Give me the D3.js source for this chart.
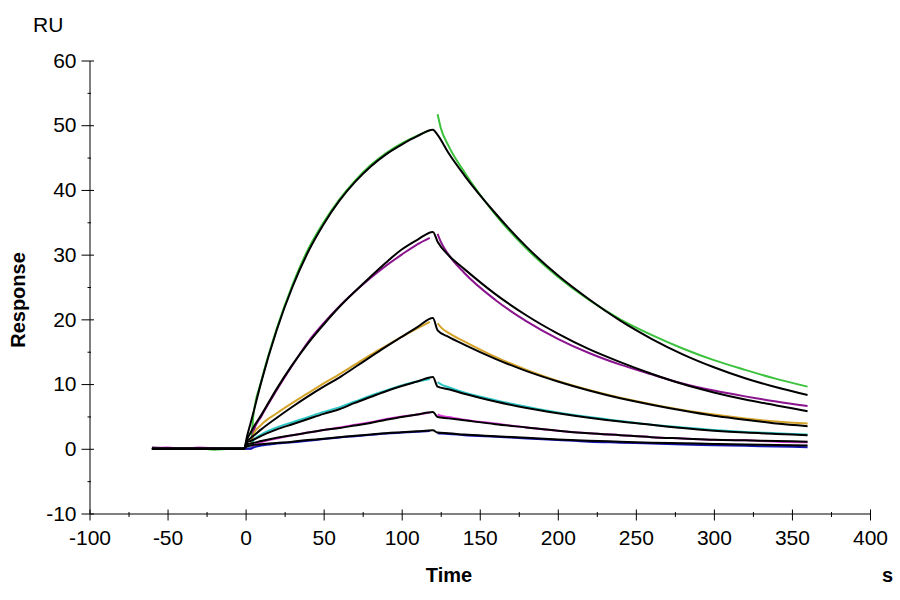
<!DOCTYPE html>
<html>
<head>
<meta charset="utf-8">
<script src="https://cdn.jsdelivr.net/npm/d3@7"></script>
<style>
  html, body { margin: 0; padding: 0; background: #fff; }
  svg { display: block; font-family: "Liberation Sans", Arial, sans-serif; }
</style>
</head>
<body>
<svg id="chart" width="900" height="600"></svg>
<script>
// ---------- data ----------
const xTicks = [-100, -50, 0, 50, 100, 150, 200, 250, 300, 350, 400];
const yTicks = [-10, 0, 10, 20, 30, 40, 50, 60];

// time points of the black fitted curves (s)
const fitTime = [-60, -1, 1, 3, 5, 10, 20, 30, 40, 50, 60, 70, 80, 90, 100, 110, 120,
                 123, 130, 140, 160, 180, 200, 220, 240, 260, 280, 300, 320, 340, 360];
const fit1 = [0, 0, 2.0, 3.8, 5.6, 10.3, 18.4, 25.0, 30.4, 34.7, 38.3, 41.2, 43.6, 45.5, 47.0, 48.3, 49.3,
              48.5, 45.7, 42.3, 36.4, 31.2, 26.8, 23.1, 19.8, 17.0, 14.6, 12.6, 10.9, 9.5, 8.3];
const fit2 = [0, 0, 1.5, 2.4, 3.3, 5.2, 9.3, 13.0, 16.3, 19.2, 21.9, 24.3, 26.6, 28.8, 30.8, 32.3, 33.5,
              32.0, 29.9, 27.8, 23.9, 20.6, 17.8, 15.4, 13.4, 11.6, 10.0, 8.7, 7.6, 6.7, 5.8];
const fit3 = [0, 0, 1.2, 1.6, 2.0, 3.0, 4.8, 6.5, 8.1, 9.6, 11.0, 12.6, 14.2, 15.8, 17.3, 18.8, 20.2,
              18.3, 17.3, 16.1, 13.9, 12.0, 10.4, 9.0, 7.8, 6.8, 5.9, 5.1, 4.5, 3.9, 3.5];
const fit4 = [0, 0, 1.0, 1.2, 1.4, 2.0, 3.0, 3.8, 4.6, 5.4, 6.1, 7.1, 8.0, 8.9, 9.7, 10.4, 11.1,
              9.6, 9.2, 8.5, 7.3, 6.3, 5.5, 4.8, 4.2, 3.7, 3.2, 2.8, 2.5, 2.3, 2.1];
const fit5 = [0, 0, 0.7, 0.8, 0.9, 1.2, 1.7, 2.1, 2.5, 2.9, 3.2, 3.6, 4.0, 4.5, 4.9, 5.3, 5.7,
              4.9, 4.7, 4.4, 3.8, 3.3, 2.8, 2.4, 2.1, 1.8, 1.6, 1.4, 1.3, 1.2, 1.1];
const fit6 = [0, 0, 0.4, 0.5, 0.6, 0.7, 0.9, 1.1, 1.35, 1.55, 1.8, 2.0, 2.2, 2.4, 2.55, 2.7, 2.85,
              2.5, 2.4, 2.2, 1.95, 1.7, 1.45, 1.25, 1.1, 0.95, 0.85, 0.75, 0.65, 0.6, 0.5];

// time points of the measured (coloured) curves (s); null = no data
const dataTime = [-60, -50, -40, -30, -20, -10, -3, 0, 3, 5, 10, 20, 30, 40, 50, 60, 70, 80, 90, 100, 110, 118,
                  120, 123, 125, 130, 140, 160, 180, 200, 220, 240, 260, 280, 300, 320, 340, 360];
const greenData = [0.15, 0.1, 0.0, 0.05, -0.15, 0.0, 0.0, 0.0, 0.0, 5.2, 10.4, 18.6, 25.3, 30.8, 35.0, 38.5, 41.4, 43.8, 45.7, 47.2, 48.4, 49.2,
                   null, 51.7, 49.6, 46.8, 42.8, 36.2, 30.9, 26.6, 23.0, 20.0, 17.6, 15.5, 13.7, 12.2, 10.8, 9.6];
const purpleData = [0.2, 0.1, 0.1, 0.0, 0.1, 0.0, 0.0, 0.0, 0.3, 2.6, 5.0, 9.1, 12.9, 16.5, 19.4, 22.0, 24.3, 26.4, 28.3, 30.0, 31.6, 32.6,
                    null, 33.2, 32.0, 30.0, 27.2, 23.0, 19.7, 17.0, 14.8, 13.0, 11.5, 10.1, 9.0, 8.1, 7.3, 6.6];
const orangeData = [0.1, 0.0, 0.1, 0.0, 0.0, 0.1, 0.0, 0.0, 0.5, 2.2, 3.7, 5.5, 7.1, 8.6, 10.1, 11.5, 13.0, 14.5, 15.9, 17.3, 18.6, 19.6,
                    null, 19.4, 18.8, 17.9, 16.6, 14.2, 12.2, 10.5, 9.1, 7.9, 6.9, 6.0, 5.3, 4.7, 4.2, 3.9];
const cyanData = [0.0, 0.1, 0.0, 0.0, 0.1, 0.0, 0.0, 0.0, 0.2, 1.3, 2.2, 3.3, 4.1, 4.9, 5.7, 6.4, 7.3, 8.2, 9.0, 9.8, 10.4, 10.8,
                  null, 10.3, 10.0, 9.5, 8.7, 7.5, 6.5, 5.6, 4.9, 4.3, 3.7, 3.3, 2.9, 2.6, 2.4, 2.2];
const magentaData = [0.1, 0.2, 0.0, 0.2, 0.1, 0.0, 0.0, 0.0, 0.0, 0.5, 1.0, 1.6, 2.1, 2.5, 2.9, 3.3, 3.7, 4.1, 4.6, 5.0, 5.3, 5.6,
                     null, 5.3, 5.1, 4.9, 4.5, 3.9, 3.3, 2.8, 2.4, 2.1, 1.8, 1.6, 1.4, 1.3, 1.1, 1.0];
const blueData = [0.0, 0.0, 0.0, 0.0, 0.0, 0.0, 0.0, 0.0, 0.0, 0.2, 0.5, 0.8, 1.0, 1.25, 1.5, 1.75, 1.95, 2.15, 2.35, 2.5, 2.65, 2.75,
                  null, 2.4, 2.35, 2.3, 2.1, 1.85, 1.6, 1.35, 1.1, 0.95, 0.8, 0.65, 0.55, 0.45, 0.35, 0.25];

const dataSeries = [
  { values: greenData,   color: "#3cc23c" },
  { values: purpleData,  color: "#8a138e" },
  { values: orangeData,  color: "#d4a32a" },
  { values: cyanData,    color: "#2cc6c6" },
  { values: magentaData, color: "#e03ce0" },
  { values: blueData,    color: "#1414b4" }
];
const fitSeries = [fit1, fit2, fit3, fit4, fit5, fit6];

// ---------- chart ----------
const svg = d3.select("#chart");
const x = d3.scaleLinear().domain([-100, 400]).range([89.5, 870]);
const y = d3.scaleLinear().domain([-10, 60]).range([513.5, 60.5]);

const line = d3.line()
  .defined(d => d[1] !== null)
  .x(d => x(d[0]))
  .y(d => y(d[1]))
  .curve(d3.curveMonotoneX);

const plot = svg.append("g");

dataSeries.forEach(s => {
  plot.append("path")
    .datum(dataTime.map((t, i) => [t, s.values[i]]))
    .attr("fill", "none")
    .attr("stroke", s.color)
    .attr("stroke-width", 2)
    .attr("d", line);
});

fitSeries.forEach(vals => {
  plot.append("path")
    .datum(fitTime.map((t, i) => [t, vals[i]]))
    .attr("fill", "none")
    .attr("stroke", "#000")
    .attr("stroke-width", 2)
    .attr("stroke-linejoin", "round")
    .attr("d", line);
});

// ---------- axes ----------
const tickFont = "21px";
const labelFont = "20px";
const fmt = d => String(d);   // plain hyphen-minus as in the reference

// x axis
const xMinor = d3.range(-100, 401, 25).filter(v => v % 50 !== 0);
const gx = svg.append("g").attr("transform", `translate(0,${y(-10)})`);
gx.call(d3.axisBottom(x).tickValues(xTicks).tickSize(7).tickSizeOuter(0).tickPadding(10).tickFormat(fmt));
gx.selectAll(".tick line").attr("y1", -4);
gx.selectAll("text").attr("font-size", tickFont).attr("font-family", "Liberation Sans, Arial, sans-serif").attr("fill", "#000");
const gxm = svg.append("g").attr("transform", `translate(0,${y(-10)})`);
gxm.call(d3.axisBottom(x).tickValues(xMinor).tickSize(3.5).tickFormat(""));
gxm.select(".domain").remove();
gxm.selectAll(".tick line").attr("y1", -1.5);

// y axis
const yMinor = d3.range(-5, 60, 10);
const gy = svg.append("g").attr("transform", `translate(${x(-100)},0)`);
gy.call(d3.axisLeft(y).tickValues(yTicks).tickSize(8).tickSizeOuter(0).tickPadding(5).tickFormat(fmt));
gy.selectAll(".tick line").attr("x1", 4.5);
gy.selectAll("text").attr("font-size", tickFont).attr("font-family", "Liberation Sans, Arial, sans-serif").attr("fill", "#000");
const gym = svg.append("g").attr("transform", `translate(${x(-100)},0)`);
gym.call(d3.axisLeft(y).tickValues(yMinor).tickSize(2).tickFormat(""));
gym.select(".domain").remove();
gym.selectAll(".tick line").attr("x1", 1.5);

svg.selectAll(".domain, .tick line").attr("stroke", "#000").attr("stroke-width", 1);

// ---------- labels ----------
svg.append("text").attr("x", 33).attr("y", 32).attr("font-size", tickFont).attr("fill", "#000").text("RU");

svg.append("text")
  .attr("transform", "translate(25,300) rotate(-90)")
  .attr("text-anchor", "middle")
  .attr("font-size", labelFont).attr("font-weight", "bold").attr("fill", "#000")
  .text("Response");

svg.append("text")
  .attr("x", 449).attr("y", 582)
  .attr("text-anchor", "middle")
  .attr("font-size", labelFont).attr("font-weight", "bold").attr("fill", "#000")
  .text("Time");

svg.append("text")
  .attr("x", 882).attr("y", 582)
  .attr("font-size", labelFont).attr("font-weight", "bold").attr("fill", "#000")
  .text("s");
</script>
</body>
</html>
